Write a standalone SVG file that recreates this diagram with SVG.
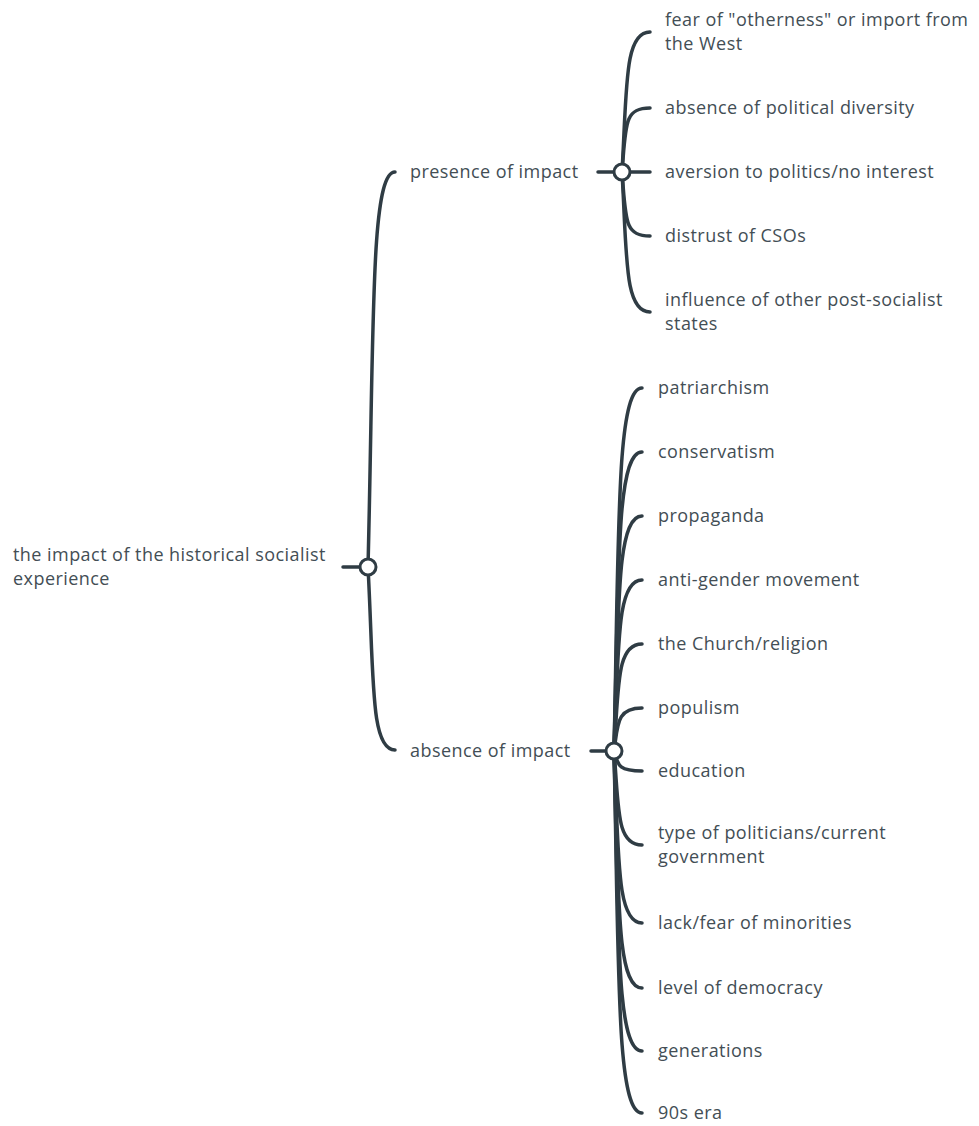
<svg xmlns="http://www.w3.org/2000/svg" width="979" height="1126" viewBox="0 0 979 1126">
<style>
.t{font-family:"Open Sans","Noto Sans","Liberation Sans",sans-serif;font-size:18px;letter-spacing:0.45px;fill:#434e55}
.c{fill:none;stroke:#2f3c44;stroke-width:3.5;stroke-linecap:round}
.k{fill:#fff;stroke:#2f3c44;stroke-width:3}
</style>
<rect width="979" height="1126" fill="#fff"/>
<g id="connectors">
<path class="c" d="M343 567H360"/>
<path class="c" d="M368 567C374 330 370 172 395 172" stroke-width="4"/>
<path class="c" d="M368 567C374 677 370 750 395 750" stroke-width="4"/>
<path class="c" d="M598 172H614"/>
<path class="c" d="M622 172C627 88 624 32 650 32"/>
<path class="c" d="M622 172C626 124 624 108 650 108"/>
<path class="c" d="M622 172H650"/>
<path class="c" d="M622 172C626 220 624 236 650 236"/>
<path class="c" d="M622 172C627 256 624 312 650 312"/>
<path class="c" d="M591 751H606"/>
<path class="c" d="M614 751C619 533 616 388 642 388"/>
<path class="c" d="M614 751C619 571 616 452 642 452"/>
<path class="c" d="M614 751C619 610 616 516 642 516"/>
<path class="c" d="M614 751C619 648 616 580 642 580"/>
<path class="c" d="M614 751C619 687 616 644 642 644"/>
<path class="c" d="M614 751C618 725 616 708 642 708"/>
<path class="c" d="M614 751C618 763 616 771 642 771"/>
<path class="c" d="M614 751C619 808 616 845 642 845"/>
<path class="c" d="M614 751C619 855 616 923 642 923"/>
<path class="c" d="M614 751C619 894 616 988 642 988"/>
<path class="c" d="M614 751C619 932 616 1051 642 1051"/>
<path class="c" d="M614 751C619 969 616 1113 642 1113"/>
</g>
<g id="root"><circle class="k" cx="368" cy="567" r="8"/><text class="t" x="13" y="561">the impact of the historical socialist</text><text class="t" x="13" y="585">experience</text></g>
<g id="presence"><circle class="k" cx="622" cy="172" r="8"/><text class="t" x="410" y="178">presence of impact</text></g>
<g id="absence"><circle class="k" cx="614" cy="751" r="8"/><text class="t" x="410" y="757">absence of impact</text></g>
<g id="p1"><text class="t" x="665" y="26">fear of "otherness" or import from</text><text class="t" x="665" y="50">the West</text></g>
<g id="p2"><text class="t" x="665" y="114">absence of political diversity</text></g>
<g id="p3"><text class="t" x="665" y="178">aversion to politics/no interest</text></g>
<g id="p4"><text class="t" x="665" y="242">distrust of CSOs</text></g>
<g id="p5"><text class="t" x="665" y="306">influence of other post-socialist</text><text class="t" x="665" y="330">states</text></g>
<g id="a1"><text class="t" x="658" y="394">patriarchism</text></g>
<g id="a2"><text class="t" x="658" y="458">conservatism</text></g>
<g id="a3"><text class="t" x="658" y="522">propaganda</text></g>
<g id="a4"><text class="t" x="658" y="586">anti-gender movement</text></g>
<g id="a5"><text class="t" x="658" y="650">the Church/religion</text></g>
<g id="a6"><text class="t" x="658" y="714">populism</text></g>
<g id="a7"><text class="t" x="658" y="777">education</text></g>
<g id="a8"><text class="t" x="658" y="839">type of politicians/current</text><text class="t" x="658" y="863">government</text></g>
<g id="a9"><text class="t" x="658" y="929">lack/fear of minorities</text></g>
<g id="a10"><text class="t" x="658" y="994">level of democracy</text></g>
<g id="a11"><text class="t" x="658" y="1057">generations</text></g>
<g id="a12"><text class="t" x="658" y="1119">90s era</text></g>
</svg>
